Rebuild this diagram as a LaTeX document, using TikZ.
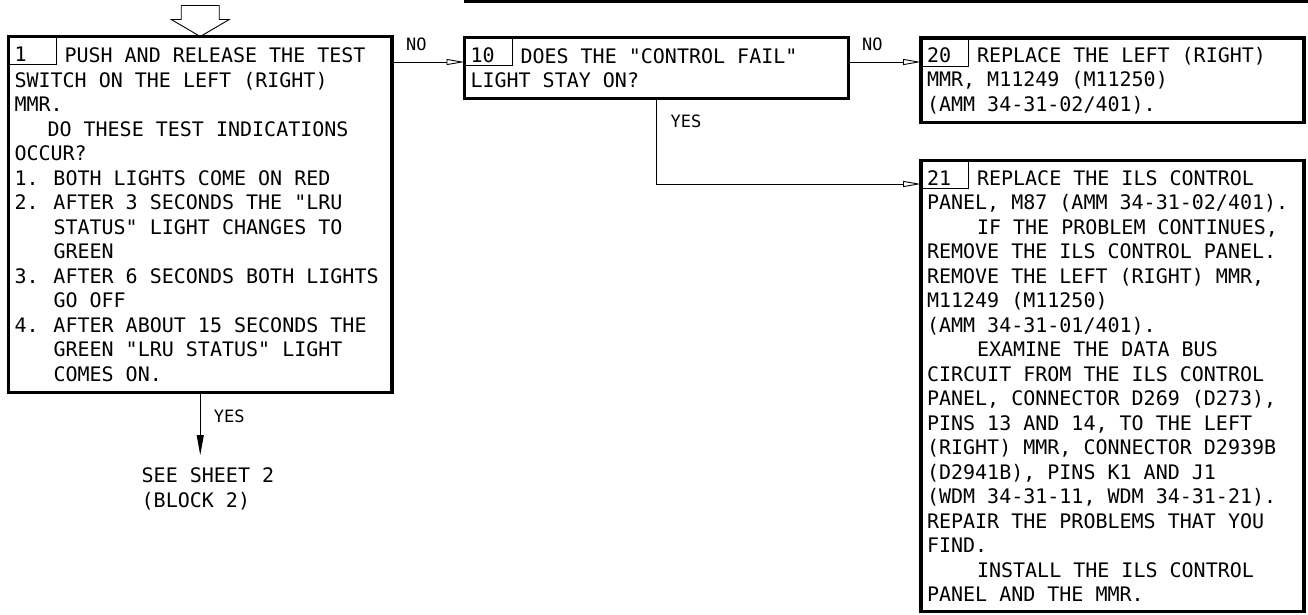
\documentclass[tikz,border=0pt]{standalone}
\usepackage{fontspec}
\setmonofont{DejaVu Sans Mono}
\usetikzlibrary{arrows.meta,positioning,calc}

\newcommand{\lead}[1]{\hspace*{#1}}
\newcommand{\itm}[1]{\makebox[39pt][l]{#1}}
\newcommand{\monospaces}{\spaceskip=\fontdimen2\font\relax\xspaceskip=\fontdimen2\font\relax}

\begin{document}
\begin{tikzpicture}[x=1pt,y=-1pt,
  font=\ttfamily\fontsize{20}{24.5}\selectfont,
  box/.style={draw,line width=3.2pt,anchor=north west,align=left,
    inner xsep=6pt,inner ysep=0pt,outer sep=0pt,execute at begin node=\monospaces},
  numcell/.style={draw,line width=0.9pt,anchor=north west,inner xsep=6pt,
    inner ysep=0pt,outer sep=0pt,text width=35.5pt,text height=24.5pt,text depth=3.5pt},
  flow/.style={line width=0.9pt,-{Triangle[open,length=18pt,width=6pt]}},
  yesflow/.style={line width=0.9pt,-{Triangle[length=20pt,width=7pt]}},
  tag/.style={font=\ttfamily\fontsize{17}{20}\selectfont,anchor=base west,inner sep=0pt}]
  \useasboundingbox (0,0) rectangle (1308,614);

  % edge of the box above
  \draw[line width=3.4pt] (463.5,0.9) -- (1308,0.9);

  % block 1
  \node[box,minimum width=383.5pt,minimum height=356pt,text width=371.5pt] (b1) at (8.5,36.5)
    {\lead{50pt}PUSH AND RELEASE THE TEST\\
     SWITCH ON THE LEFT (RIGHT)\\
     MMR.\\
     \lead{33pt}DO THESE TEST INDICATIONS\\
     OCCUR?\\
     \itm{1.}BOTH LIGHTS COME ON RED\\
     \itm{2.}AFTER 3 SECONDS THE "LRU\\
     \itm{}STATUS" LIGHT CHANGES TO\\
     \itm{}GREEN\\
     \itm{3.}AFTER 6 SECONDS BOTH LIGHTS\\
     \itm{}GO OFF\\
     \itm{4.}AFTER ABOUT 15 SECONDS THE\\
     \itm{}GREEN "LRU STATUS" LIGHT\\
     \itm{}COMES ON.};
  \node[numcell] (c1) at (b1.north west) {1};
  \draw[line width=0.9pt] (b1.north) -- ++(-29,-17) -- ++(10,0) -- ++(0,-14)
    -- ++(38,0) -- ++(0,14) -- ++(10,0) -- cycle;

  % block 10
  \node[box,minimum width=384pt,minimum height=61pt,text width=372pt] (b10) at (464.5,37.5)
    {\lead{50pt}DOES THE "CONTROL FAIL"\\
     LIGHT STAY ON?};
  \node[numcell] (c10) at (b10.north west) {10};

  % block 20
  \node[box,minimum width=383pt,minimum height=84.5pt,text width=371pt] (b20) at (921,38)
    {\lead{50pt}REPLACE THE LEFT (RIGHT)\\
     MMR, M11249 (M11250)\\
     (AMM 34-31-02/401).};
  \node[numcell] (c20) at (b20.north west) {20};

  % block 21
  \node[box,minimum width=383pt,minimum height=451pt,text width=371pt] (b21) at (921,160.5)
    {\lead{50pt}REPLACE THE ILS CONTROL\\
     PANEL, M87 (AMM 34-31-02/401).\\
     \lead{50pt}IF THE PROBLEM CONTINUES,\\
     REMOVE THE ILS CONTROL PANEL.\\
     REMOVE THE LEFT (RIGHT) MMR,\\
     M11249 (M11250)\\
     (AMM 34-31-01/401).\\
     \lead{50pt}EXAMINE THE DATA BUS\\
     CIRCUIT FROM THE ILS CONTROL\\
     PANEL, CONNECTOR D269 (D273),\\
     PINS 13 AND 14, TO THE LEFT\\
     (RIGHT) MMR, CONNECTOR D2939B\\
     (D2941B), PINS K1 AND J1\\
     (WDM 34-31-11, WDM 34-31-21).\\
     REPAIR THE PROBLEMS THAT YOU\\
     FIND.\\
     \lead{50pt}INSTALL THE ILS CONTROL\\
     PANEL AND THE MMR.};
  \node[numcell] (c21) at (b21.north west) {21};

  % sheet 2 reference
  \node[anchor=north west,align=left,inner sep=0pt,execute at begin node=\monospaces] (see)
    at (141.5,467.5) {SEE SHEET 2\\(BLOCK 2)};

  % connectors
  \coordinate (no1) at ($(b1.north east)+(0,25.5)$);
  \draw[flow] (no1) -- (no1 -| b10.west);
  \node[tag] (nolbl1) at ($(no1)+(14,-12)$) {NO};

  \coordinate (no10) at ($(b10.north east)+(0,24.5)$);
  \draw[flow] (no10) -- (no10 -| b20.west);
  \node[tag] (nolbl10) at ($(no10)+(13.5,-12)$) {NO};

  \coordinate (yes10) at ($(b21.north west)+(0,23.5)$);
  \draw[flow] (b10.south) |- (yes10);
  \node[tag] (yeslbl10) at ($(b10.south)+(14,29)$) {YES};

  \draw[yesflow,shorten >=12.5pt] (b1.south) -- (b1.south |- see.north);
  \node[tag] (yeslbl1) at ($(b1.south)+(13.5,29.5)$) {YES};
\end{tikzpicture}
\end{document}
